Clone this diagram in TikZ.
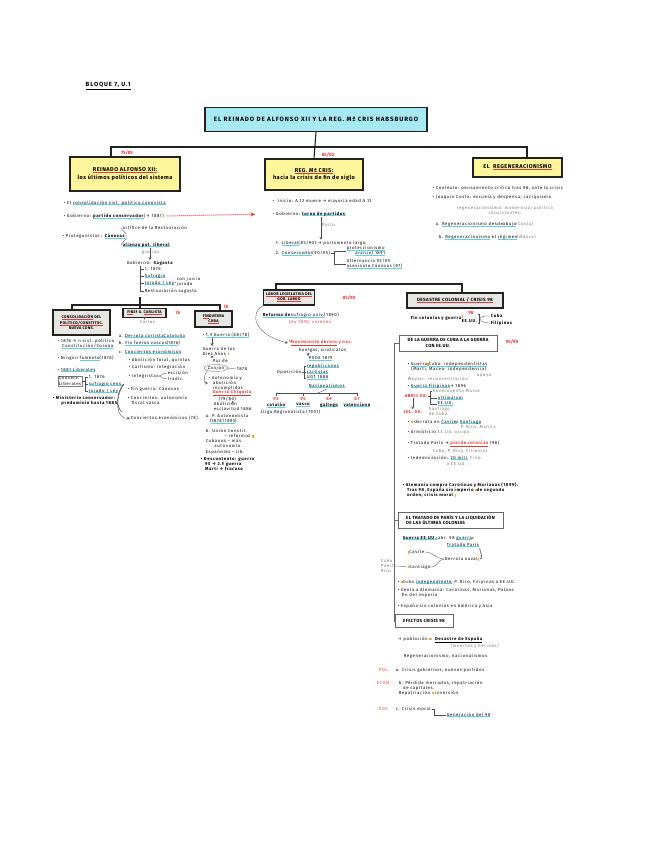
\documentclass[tikz,border=0pt]{standalone}
\usepackage{fontspec}
\setmainfont{Fira Sans}
\usepackage{xcolor}
\definecolor{titlecyan}{HTML}{A6E9F2}
\definecolor{noteyellow}{HTML}{FFF59A}
\definecolor{boxgrey}{HTML}{E9E7E3}
\definecolor{redmark}{HTML}{E53935}
\definecolor{hlcyan}{HTML}{5BD3EA}
\definecolor{markorange}{HTML}{F5A623}
\definecolor{penink}{HTML}{222222}
\usepackage{tikz}
\usetikzlibrary{positioning,shapes.geometric}
\newcommand\tinyfont{\fontsize{4.3}{5.1}\selectfont\addfontfeature{LetterSpace=14}}
\newcommand\subfont{\fontsize{3.9}{4.8}\selectfont\bfseries\addfontfeature{LetterSpace=6}}
\newcommand\boxfont{\fontsize{4.5}{5.6}\selectfont\bfseries\addfontfeature{LetterSpace=6}}
\newcommand\hdfont{\fontsize{5.6}{7.4}\selectfont\bfseries\addfontfeature{LetterSpace=8}}
\newcommand\titlefont{\fontsize{6.2}{7}\selectfont\bfseries\addfontfeature{LetterSpace=15}}
\newcommand\datefont{\fontsize{4.6}{5}\selectfont\bfseries}
\newcommand\cyul[1]{\setbox0\hbox{#1}\rlap{\textcolor{hlcyan}{\rule[-1.1pt]{\wd0}{0.8pt}}}\box0}
\newcommand\redul[1]{\setbox0\hbox{#1}\rlap{\textcolor{redmark}{\rule[-1.2pt]{\wd0}{0.8pt}}}\box0}
\newcommand\omark{\textcolor{markorange}{\rule{1.6pt}{2.2pt}}}

\begin{document}
\begin{tikzpicture}[x=1pt, y=-1pt,
  tbox/.style={draw=penink, line width=1.2pt, align=center, inner sep=2pt},
  ybox/.style={tbox, fill=noteyellow, font=\hdfont},
  gbox/.style={tbox, fill=boxgrey, font=\subfont, line width=1.1pt},
  wbox/.style={draw=black!60, line width=0.9pt, fill=white, align=left, inner sep=2pt, font=\boxfont},
  note/.style={anchor=west, inner sep=0.6pt, align=left, font=\tinyfont},
  faint/.style={note, text=black!55},
  date/.style={font=\datefont, text=redmark, inner sep=0.5pt},
  tree/.style={draw=penink, line width=1.1pt},
  fine/.style={draw=black!70, line width=0.35pt},
  link/.style={->, >=stealth, draw=black!70, line width=0.35pt}
]
  \useasboundingbox (0,0) rectangle (648,848);

  % heading
  \node[anchor=west, font=\fontsize{6}{6}\selectfont\bfseries\addfontfeature{LetterSpace=15}, inner sep=0.5pt] (bloque) at (85,86)
    {\underline{BLOQUE 7, U.1}};
  \node[tbox, fill=titlecyan, minimum width=222, minimum height=24, font=\titlefont] (title) at (316,119.5)
    {EL REINADO DE ALFONSO XII Y LA REG. Mª CRIS HABSBURGO};

  % main branches
  \node[ybox, minimum width=110, minimum height=34] (alf) at (125,174)
    {\redul{REINADO ALFONSO XII:}\\ los últimos políticos del sistema};
  \node[ybox, minimum width=98, minimum height=31] (reg) at (314,174.5)
    {\redul{REG. Mª CRIS:}\\ hacia la crisis de fin de siglo};
  \node[ybox, minimum width=89, minimum height=19] (regen) at (517.5,167.5)
    {EL \ \redul{REGENERACIONISMO}};
  \node[date] (dalf) at (127,153) {75/85};
  \node[date] (dreg) at (328,155) {85/02};

  \coordinate (jL) at (111,147);
  \coordinate (jR) at (527,147);
  \draw[tree] (title.south) -- (reg.north);
  \draw[tree] (jL |- alf.north) -- (jL) -- (jR) -- (jR |- regen.north);

  % Alfonso XII side
  \node[note] (l1) at (63,203) {• El \cyul{consolidación sist. político canovista}};
  \node[note] (l2) at (63,216) {• Gobierno: \cyul{\textbf{partido conservador}} (→ 1881)};
  \node[note] (l3) at (62,236) {• Protagonistas : \cyul{\textbf{Cánovas}}};
  \node[note] (l3a) at (122,228) {artífice de la Restauración};
  \node[note] (l3b) at (122,245) {\cyul{\textbf{alianza pol. liberal}}};
  \node[faint] (gracias) at (141,252) {gracias};
  \node[note] (gob) at (126,263) {Gobierno: \textbf{Sagasta}};
  \node[note] (g1) at (144,269) {1. 1876};
  \node[note] (g2) at (144,276) {\cyul{Sufragio}};
  \node[note] (g3) at (144,283) {\cyul{Jurado / Ley}};
  \node[note] (g3a) at (176,282) {con juicio\\ jurado};
  \node[note] (g4) at (144,291) {Restauración sagasta};
  \draw[fine] (l3.east) to[out=40, in=180] (l3a.west);
  \draw[fine] (l3.east) to[out=-40, in=180] (l3b.west);
  \draw[link] (l3b.south -| gob.north) -- (gob.north);
  \coordinate (gb) at (140,266);
  \foreach \g in {g1,g2,g3,g4} {
    \draw[fine] (gb) |- (\g.west);
  }
  \draw[fine] (g3.east) -- (g3a.west);

  \coordinate (kT) at (140,297);
  \coordinate (kA) at (72,305);
  \coordinate (kC) at (220,305);
  \node[gbox, minimum width=57, minimum height=25] (cons) at (81.5,322.5)
    {\redul{CONSOLIDACIÓN} \ DEL\\ \redul{POLÍTICO/CONSTITUC.}\\ NUEVA CONS.};
  \node[gbox, minimum width=43, minimum height=9] (carl) at (144.5,313) {\redul{FIN} 3ª G. \redul{CARLISTA}};
  \node[gbox, minimum width=37, minimum height=16] (cuba) at (213.5,319) {\redul{FIN} GUERRA\\ \redul{CUBA}};
  \node[date] at (178,313) {76};
  \node[date] at (226,307) {78};
  \draw[tree] (kT) -- (kT |- kA);
  \draw[tree] (kA |- cons.north) -- (kA) -- (kC) -- (kC |- cuba.north);
  \draw[tree] (carl.north -| kT) -- (kT |- kA);

  % consolidación
  \node[note] (a1) at (57,344) {• 1876 → n sist. político\\ \quad\cyul{Constitución/Corona}};
  \node[note] (a2) at (57,358) {• Ningún \cyul{fomento} (1876)};
  \node[note] (a3) at (57,370) {• \cyul{1881 Liberales}};
  \node[note, draw=black!50, line width=0.3pt] (a4) at (58,381) {Conserv.\\ Liberales};
  \node[note] (a4a) at (88,377) {1. 1876};
  \node[note] (a4b) at (88,384) {\cyul{sufragio cens.}};
  \node[note] (a4c) at (88,391) {\cyul{Jurado / Ley}};
  \node[note, font=\tinyfont\bfseries] (a5) at (52,401) {• Ministerio conservador:\\ \qquad predominio hasta 1885};
  \foreach \a in {a4a,a4b,a4c} {
    \draw[fine] (a4.east) -- ++(3,0) |- (\a.west);
  }

  % fin guerra carlista
  \node[faint] (cfin) at (139,322) {Carlos};
  \node[note] (b1) at (118,336) {a. \cyul{Derrota carlista} \cyul{Cataluña}};
  \node[note] (b2) at (118,343) {b. \cyul{Fin fueros vascos} (\cyul{1876})};
  \node[note] (b3) at (118,352) {c. \cyul{Conciertos económicos}};
  \node[note] (b4) at (128,360) {• Abolición foral, quintas};
  \node[note] (b5) at (128,367) {• Carlismo: integración};
  \node[note] (b6) at (128,376) {• Integristas};
  \node[note] (b6a) at (167,373) {escisión};
  \node[note] (b6b) at (167,379) {tradic.};
  \node[note] (b7) at (127,389) {• Fin guerra: Cánovas};
  \node[note] (b8) at (127,400) {• Conciertos: autonomía\\ \quad fiscal vasca};
  \node[note] (b9) at (130,418) {Conciertos económicos (78)};
  \draw[link] (carl.south) -- (cfin.north -| carl.south);
  \draw[fine] (b6.east) to[out=30, in=180] (b6a.west);
  \draw[fine] (b6.east) to[out=-30, in=180] (b6b.west);
  \coordinate (bk) at (124,384);
  \draw[fine, line width=0.6pt] (bk) .. controls (116,392) and (116,408) .. (122,412);
  \draw[link] (bk) .. controls (114,398) and (116,420) .. (b9.west);

  % fin guerra cuba
  \node[note] (c1) at (202,335) {• \cyul{1.ª Guerra (68/78)}};
  \node[note] (c2) at (202,351) {Guerra de los\\ Diez Años \omark};
  \node[note] (c2a) at (212,361) {Paz de};
  \node[note, ellipse, draw=black!60, line width=0.3pt, inner sep=0.3pt, anchor=center] (c3) at (216,368) {Zanjón};
  \node[note] (c3a) at (236,369) {1878};
  \node[note] (c4) at (208,383) {• Autonomía y\\ \quad abolición\\ \quad incumplidas};
  \node[note, text=redmark, font=\tinyfont\bfseries] (c5) at (212,393) {\underline{Guerra Chiquita}};
  \node[note] (c6) at (218,399) {(79/80)};
  \node[note] (c7) at (213,406) {Abolición\\ esclavitud 1886};
  \node[note] (c8) at (205,419) {a. P. Autonomista\\ \quad (\cyul{1878/1895})};
  \node[note] (c9) at (205,431) {b. Unión Constit.};
  \node[note] (c9a) at (224,436) {– reformas \omark};
  \node[note] (c10) at (205,443) {Cubanos – más\\ \qquad autonomía};
  \node[note] (c11) at (205,452) {Españoles – lib.};
  \node[note, font=\tinyfont\bfseries] (c12) at (200,464) {• Descontento: guerra\\ \quad 95 → 2.ª guerra\\ \quad Martí → fracaso};
  \draw[link] (c1.south -| c2a.west) -- (c2.north -| c2a.west);
  \draw[link] (c2.south -| c2a.west) -- (c2a.north -| c2a.west);
  \draw[fine] (c3.east) -- (c3a.west);
  \draw[link] (c3.south west) to[out=220, in=180] (c4.west);
  \draw[link] (c6.south -| c7.north) -- (c7.north);

  % Regencia side
  \node[note] (m1) at (272,201) {• \ Inicio: A.12 muere → mayoría edad A.13};
  \node[note] (m2) at (272,214) {• Gobierno: \cyul{\textbf{turno de partidos}}};
  \node[faint] (pacto) at (321,225) {Pacto};
  \node[note] (m3) at (275,243) {1. \cyul{Liberal} (85/90) → parlamento largo};
  \node[note] (m4) at (275,253) {2. \cyul{Conservador} (90/95)};
  \node[note] (m4a) at (346,251) {\cyul{proteccionismo}\\ \qquad\cyul{arancel 1891}};
  \node[note] (m4b) at (346,264) {Alternancia 92/95\\ \cyul{asesinato Cánovas (97)}};
  \draw[->, >=stealth, densely dotted, redmark, line width=1pt, shorten <=2pt, shorten >=17pt] (l2.east) -- (m2.west);
  \draw[link] (m2.south -| pacto.west) -- (m3.north -| pacto.west);
  \draw[fine] (m4.east) -- ++(3,0) |- (m4a.west);
  \draw[fine] (m4.east) -- ++(3,0) |- (m4b.west);

  \coordinate (kL) at (276,284);
  \coordinate (kR) at (462,284);
  \node[gbox, minimum width=44, minimum height=15] (leyes) at (289,297.5)
    {\redul{LABOR LEGISLATIVA DEL}\\ \redul{GOB. LARGO}};
  \node[gbox, minimum width=96, minimum height=15, font=\fontsize{4.6}{5}\selectfont\bfseries\addfontfeature{LetterSpace=8}] (desastre) at (455,300.5)
    {\redul{DESASTRE COLONIAL / CRISIS 98}};
  \node[date] at (349,298) {85/90};
  \draw[tree] (kL |- leyes.north) -- (kL) -- (kR) -- (kR |- desastre.north);

  % labor legislativa
  \node[note] (n1) at (262,315) {\cyul{\textbf{Reforma de}} \cyul{sufragio univ.} (1890)};
  \node[note, text=redmark] (n2) at (288,322) {Ley 1890, varones};
  \node[note, text=redmark, font=\tinyfont\bfseries] (n3) at (288,343) {*\underline{Movimiento obrero} y nac.};
  \node[note] (n4) at (298,350) {huelgas, sindicatos};
  \node[note] (n5) at (308,359) {\cyul{PSOE 1879}};
  \node[note] (n6) at (276,372) {Oposición};
  \node[note] (n6a) at (306,366) {\cyul{republicanos}};
  \node[note] (n6b) at (306,372) {\cyul{carlistas}};
  \node[note] (n6c) at (306,378) {\cyul{UGT 1888}};
  \node[note] (n7) at (308,386) {\cyul{Nacionalismos}};
  \coordinate (nb) at (318,393);
  \node[note, anchor=center, font=\tinyfont\bfseries] (p1) at (276,405) {\cyul{catalán}};
  \node[note, anchor=center, font=\tinyfont\bfseries] (p2) at (303,405) {\cyul{vasco}};
  \node[note, anchor=center, font=\tinyfont\bfseries] (p3) at (329,405) {\cyul{gallego}};
  \node[note, anchor=center, font=\tinyfont\bfseries] (p4) at (357,405) {\cyul{valenciano}};
  \node[date, font=\tinyfont\bfseries] at (276,399) {92};
  \node[date, font=\tinyfont\bfseries] at (303,399) {95};
  \node[date, font=\tinyfont\bfseries] at (329,399) {89};
  \node[date, font=\tinyfont\bfseries] at (357,399) {07};
  \node[note] (n8) at (260,412) {Lliga Regionalista (1901)};
  \draw[link] (leyes.south west) .. controls (250,312) and (252,334) .. (n3.west);
  \draw[link] (n4.south -| n5.west) -- (n5.north -| n5.west);
  \foreach \n in {n6a,n6b,n6c} {
    \draw[fine] (n6.east) -- ++(2,0) |- (\n.west);
  }
  \draw[fine] (n7.south) -- (nb);
  \draw[fine] (p1.north |- nb) -- (p4.north |- nb);
  \foreach \p in {p1,p2,p3,p4} {
    \draw[fine] (\p.north |- nb) -- ++(0,3);
  }

  % desastre colonial
  \node[note, font=\tinyfont\bfseries] (d1) at (410,318) {Fin colonias y guerra};
  \node[note, font=\tinyfont\bfseries] (d1a) at (461,319) {\omark\\ EE.UU.};
  \node[date] at (471,313) {98};
  \node[note, font=\tinyfont\bfseries] (d1b) at (490,316) {Cuba};
  \node[note, font=\tinyfont\bfseries] (d1c) at (490,323) {Filipinas};
  \draw[fine, line width=0.6pt] (d1a.north east) -- ++(2,0) -- ([xshift=2pt]d1a.south east) -- (d1a.south east);
  \draw[fine] ([xshift=2pt]d1a.east) to[out=60, in=180] (d1b.west);
  \draw[fine] ([xshift=2pt]d1a.east) to[out=-60, in=180] (d1c.west);

  \coordinate (spine) at (394,621);
  \node[wbox, minimum width=98, minimum height=16] (guerra) at (448,343)
    {DE LA GUERRA DE CUBA A LA GUERRA\\ \qquad\qquad CON EE.UU.};
  \node[date] at (512,342) {95/98};
  \node[wbox, minimum width=105, minimum height=16] (tratado) at (450.5,520)
    {EL TRATADO DE PARÍS Y LA LIQUIDACIÓN\\ DE LAS ÚLTIMAS COLONIAS};
  \node[wbox, minimum width=58, minimum height=13] (efectos) at (424,621) {EFECTOS CRISIS 98};
  \draw[fine, line width=0.9pt, draw=black!60] (guerra.west) -- (guerra.west -| spine) -- (spine) -- (efectos.west);
  \draw[fine, line width=0.9pt, draw=black!60] (tratado.west) -- (tratado.west -| spine);

  % guerra de cuba
  \node[note] (g5) at (407,367) {• \cyul{Guerra} \omark \cyul{Cuba: independentistas}\\ \ \ (Martí, Maceo: independencia)};
  \node[faint] (g5a) at (476,376) {apoyo};
  \node[faint] (g6) at (407,379) {Weyler: reconcentración};
  \node[note] (g7) at (407,386) {• \cyul{Guerra Filipinas} → 1896};
  \node[note, text=redmark, font=\tinyfont\bfseries] (g8) at (404,396) {ABRIL 98:};
  \node[faint] (g8a) at (432,391) {hundimiento Maine};
  \node[note] (g8b) at (437,398) {\cyul{ultimátum}};
  \node[note] (g8c) at (437,404) {\cyul{EE.UU.}};
  \node[note, text=redmark, font=\tinyfont\bfseries] (g9) at (403,412) {JUL. 98:};
  \node[faint] (g9a) at (428,411) {Santiago\\ de Cuba};
  \node[note] (g10) at (407,422) {• \omark\ derrota en \cyul{Cavite} y \cyul{Santiago}};
  \node[note] (g11) at (407,432) {• Armisticio \textcolor{black!55}{EE.UU. ocupa}};
  \node[faint] (g11a) at (460,427) {P. Rico, Manila};
  \node[note] (g12) at (407,444) {• Tratado París → \textcolor{redmark}{\textbf{\underline{pierde colonias}}} (98)};
  \node[faint] (g12a) at (432,451) {Cuba, P. Rico, Filipinas};
  \node[note] (g13) at (407,458) {• Indemnización: \cyul{20 mill.}\ \textcolor{black!55}{Filip.}};
  \node[faint] (g13a) at (446,464) {a EE.UU.};
  \node[note, font=\tinyfont\bfseries] (g14) at (402,490) {• Alemania compra Carolinas y Marianas (1899).\\ \quad Tras 98, España sin imperio \omark de segundo\\ \quad orden; crisis moral \omark};
  \draw[fine] (g8.east) -- ++(2,0) |- (g8a.west);
  \draw[fine] (g8.east) -- ++(2,0) |- (g8b.west);
  \draw[fine] (g8.east) -- ++(2,0) |- (g8c.west);
  \draw[link] (g8.south -| g9.center) -- (g9.north -| g9.center);

  % tratado de paris
  \node[note] (t1) at (402,538) {\cyul{\textbf{Guerra EE.UU.:}} abr. 98 \cyul{guerra} \omark};
  \node[note] (t1a) at (446,545) {\cyul{Tratado París}};
  \node[note] (t2) at (407,552) {\omark Cavite};
  \node[note] (t3) at (407,567) {\omark Santiago};
  \node[note] (t4) at (444,559) {Derrota naval\omark};
  \node[faint] (t5) at (380,566) {Cuba\\ Puerto\\ Rico};
  \node[note] (t6) at (397,582) {• \omark Cuba \cyul{independiente}; P. Rico, Filipinas a EE.UU.};
  \node[note] (t7) at (397,593) {• Venta a Alemania: Carolinas, Marianas, Palaos\\ \quad fin del imperio};
  \node[note] (t8) at (397,606) {• España sin colonias en América y Asia};
  \draw[fine] (t2.east) to[out=0, in=180] (t4.west);
  \draw[fine] (t3.east) to[out=0, in=180] (t4.west);
  \draw[fine, line width=0.6pt] (t4.east) to[out=0, in=-90] (t1a.south east);
  \draw[fine] (t5.east) -- (t3.west);

  % efectos
  \node[note] (e1) at (397,640) {→ población \omark: \textbf{\underline{Desastre de España}}};
  \node[faint] (e1a) at (450,646) {(muertos y heridos)};
  \node[note] (e2) at (403,656) {Regeneracionismo, nacionalismos};
  \node[note, text=redmark] (e3) at (378,670) {POL.};
  \node[note] (e3a) at (395,670) {a. Crisis gobiernos, nuevos partidos};
  \node[note, text=redmark] (e4) at (376,683) {ECON.};
  \node[note] (e4a) at (398,688) {b. Pérdida mercados, repatriación\\ \quad de capitales.\\ Repatriación \omark\ inversión};
  \node[note, text=redmark] (e5) at (378,709) {SOC.};
  \node[note] (e5a) at (395,709) {c. Crisis moral};
  \node[note] (e5b) at (446,715) {\cyul{Generación del 98}};
  \draw[fine] (e5a.east) -- ++(3,0) |- (e5b.west);

  % regeneracionismo
  \node[note] (r1) at (432,188) {• Contexto: pensamiento crítico tras 98, ante la crisis};
  \node[note] (r2) at (432,197) {• Joaquín Costa: escuela y despensa; caciquismo};
  \node[faint, align=center, anchor=center] (r3) at (505,210) {regeneracionismo: modernizar política\\ consistentes:};
  \node[note] (r4) at (435,224) {a. \cyul{Regeneracionismo desde} \cyul{abajo} \textcolor{black!55}{(Costa)}};
  \node[note] (r5) at (438,237) {b. \cyul{Regeneracionismo} \ el \cyul{régimen} \textcolor{black!55}{(Maura)}};
\end{tikzpicture}
\end{document}
